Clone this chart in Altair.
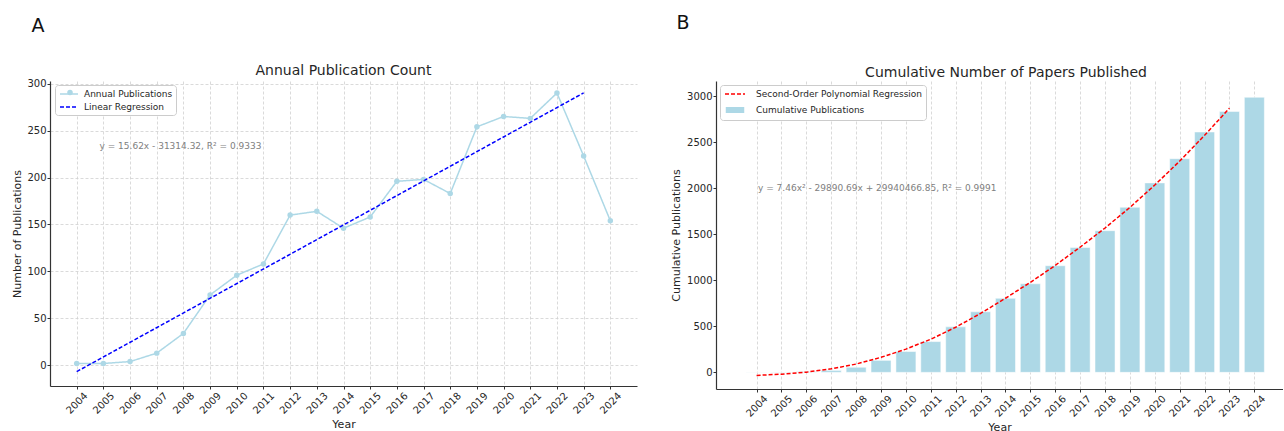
import altair as alt
import pandas as pd

# ---------------- data ----------------
years = [2004, 2005, 2006, 2007, 2008, 2009, 2010, 2011, 2012, 2013, 2014,
         2015, 2016, 2017, 2018, 2019, 2020, 2021, 2022, 2023, 2024]
annual_publications = [2, 2, 4, 13, 34, 75, 96, 108, 160, 164, 146,
                       158, 196, 198, 183, 254, 265, 263, 290, 223, 154]
cumulative_publications = [2, 4, 8, 21, 55, 130, 226, 334, 494, 658, 804,
                           962, 1158, 1356, 1539, 1793, 2058, 2321, 2611, 2834, 2988]

linear_fit_years = [2004, 2023]
linear_fit_values = [-6.7, 290.1]

poly_fit_years = [2004, 2005, 2006, 2007, 2008, 2009, 2010, 2011, 2012, 2013,
                  2014, 2015, 2016, 2017, 2018, 2019, 2020, 2021, 2022, 2023]
poly_fit_values = [-33, -20, 2, 38, 90, 163, 252, 360, 490, 640,
                   805, 978, 1162, 1360, 1568, 1792, 2035, 2295, 2575, 2870]

y_ticks_a = [0, 50, 100, 150, 200, 250, 300]
y_ticks_b = [0, 500, 1000, 1500, 2000, 2500, 3000]

series_a = ["Annual Publications", "Linear Regression"]
series_b = ["Second-Order Polynomial Regression", "Cumulative Publications"]

title_a = "Annual Publication Count"
title_b = "Cumulative Number of Papers Published"
eq_a = "y = 15.62x - 31314.32, R\u00b2 = 0.9333"
eq_b = "y = 7.46x\u00b2 - 29890.69x + 29940466.85, R\u00b2 = 0.9991"

# ---------------- styling ----------------
FONT = "DejaVu Sans"
TEXT = "#262626"
GRID = "#d0d0d0"
LIGHTBLUE = "#ADD8E6"

df_annual = pd.DataFrame({"Year": years, "Value": annual_publications,
                          "Series": [series_a[0]] * len(years)})
df_linear = pd.DataFrame({"Year": linear_fit_years, "Value": linear_fit_values,
                          "Series": [series_a[1]] * len(linear_fit_years)})
df_cum = pd.DataFrame({"Year": years, "Value": cumulative_publications,
                       "Series": [series_b[1]] * len(years)})
df_poly = pd.DataFrame({"Year": poly_fit_years, "Value": poly_fit_values,
                        "Series": [series_b[0]] * len(poly_fit_years)})


def year_axis(grid):
    return alt.Axis(values=years, format="d", labelAngle=-45, labelAlign="center",
                    labelBaseline="middle", labelPadding=14, tickSize=3,
                    title="Year", titlePadding=3, grid=grid, gridColor=GRID,
                    gridDash=[3, 2], gridWidth=0.8, labelOverlap=False,
                    labelFlush=False)


def value_axis(ticks, title, grid, title_pad):
    return alt.Axis(values=ticks, format="d", title=title, tickSize=3, labelPadding=1,
                    titlePadding=title_pad, grid=grid, gridColor=GRID,
                    gridDash=[3, 2], gridWidth=0.8, labelFlush=False)


def line_legend(x, y, half, sym_off, lab_off, **kw):
    return alt.Legend(title=None, orient="none", legendX=x, legendY=y,
                      symbolType=f"M-{half},0H{half}", symbolSize=100,
                      symbolStrokeWidth=1.5, symbolOffset=sym_off,
                      labelFontSize=9, labelColor=TEXT, labelOffset=lab_off,
                      labelLimit=400, padding=3, rowPadding=2, **kw)


def label_text(text, x, y, size, color, align="center"):
    return alt.Chart(pd.DataFrame({"t": [text]})).mark_text(
        align=align, baseline="middle", fontSize=size, color=color
    ).encode(text="t:N", x=alt.value(x), y=alt.value(y))


# ---------------- Panel A ----------------
W_A, H_A = 587, 305
xa = alt.X("Year:Q", scale=alt.Scale(domain=[2003, 2025], nice=False, zero=False),
           axis=year_axis(True))
ya = alt.Y("Value:Q", scale=alt.Scale(domain=[-22.0, 302.8], nice=False, zero=False),
           axis=value_axis(y_ticks_a, "Number of Publications", True, 4))

legend_a = line_legend(5, 4, 1.8, 5, 9, fillColor="white", strokeColor="#cccccc",
                       cornerRadius=3, zindex=1)
# marker-only legend laid over the first entry of legend_a (its label is hidden)
legend_a_marker = alt.Legend(title=None, orient="none", legendX=5, legendY=4,
                             symbolType="circle", symbolSize=30, symbolOffset=7.5,
                             symbolStrokeWidth=0, labelFontSize=9, labelOpacity=0,
                             labelLimit=400, padding=3, rowPadding=2, zindex=2)
color_a = alt.Color("Series:N", scale=alt.Scale(domain=series_a, range=[LIGHTBLUE, "#0000FF"]),
                    legend=legend_a)
dash_a = alt.StrokeDash("Series:N", scale=alt.Scale(domain=series_a, range=[[1, 0], [4, 2]]),
                        legend=legend_a)

annual_line = alt.Chart(df_annual).mark_line(strokeWidth=1.5).encode(
    x=xa, y=ya, color=color_a, strokeDash=dash_a)

annual_points = alt.Chart(df_annual).mark_point(filled=True, size=30, opacity=1).encode(
    x=xa, y=ya,
    fill=alt.Fill("Series:N", scale=alt.Scale(domain=[series_a[0]], range=[LIGHTBLUE]),
                  legend=legend_a_marker))

linear_line = alt.Chart(df_linear).mark_line(strokeWidth=1.5).encode(
    x=xa, y=ya, color=color_a, strokeDash=dash_a)

panel_a = alt.layer(
    annual_line, annual_points, linear_line,
    label_text(eq_a, 49.5, 65, 9, "#808080", align="left"),
    label_text(title_a, W_A / 2, -10.5, 14, TEXT),
    label_text("A", -12, -55.5, 19, "#111111"),
).properties(width=W_A, height=H_A)

# ---------------- Panel B ----------------
W_B, H_B = 567, 308
xb = alt.X("Year:Q", scale=alt.Scale(domain=[2002.57, 2024.95], nice=False, zero=False),
           axis=year_axis(True))
yb = alt.Y("Value:Q", scale=alt.Scale(domain=[-181, 3165], nice=False, zero=False),
           axis=value_axis(y_ticks_b, "Cumulative Publications", False, 5))

legend_b_box = alt.Legend(title=None, orient="none", legendX=4, legendY=4,
                          symbolType="M-2,-0.75H2V0.75H-2Z", symbolSize=100,
                          symbolStrokeWidth=1.5, symbolOffset=6,
                          labelFontSize=9, labelColor=TEXT, labelOffset=15,
                          labelLimit=400, fillColor="white", strokeColor="#cccccc",
                          padding=3, cornerRadius=3, rowPadding=2, zindex=1)
legend_b_line = line_legend(4, 4, 2, 6, 15, symbolDash=[4, 2], labelOpacity=0, zindex=2)

bars = alt.Chart(df_cum).mark_bar(size=20, stroke="white", strokeWidth=0.5).encode(
    x=xb, y=yb,
    fill=alt.Fill("Series:N", scale=alt.Scale(domain=series_b, range=["transparent", LIGHTBLUE]),
                  legend=legend_b_box))

poly_line = alt.Chart(df_poly).mark_line(strokeWidth=1.5, strokeDash=[4, 2]).encode(
    x=xb, y=yb,
    color=alt.Color("Series:N", scale=alt.Scale(domain=[series_b[0]], range=["#FF0000"]),
                    legend=legend_b_line))

panel_b = alt.layer(
    bars, poly_line,
    label_text(eq_b, 42, 107, 9, "#808080", align="left"),
    label_text(title_b, 290, -8, 14, TEXT),
    label_text("B", -33, -58, 19, "#111111"),
).properties(width=W_B, height=H_B)

chart = alt.hconcat(panel_a, panel_b, spacing=79, bounds="flush").resolve_scale(
    color="independent", strokeDash="independent", fill="independent"
).configure(
    font=FONT, padding={"left": 11, "top": 14, "right": 0, "bottom": 0},
    background="white"
).configure_view(stroke=None).configure_axis(
    labelFont=FONT, titleFont=FONT, labelFontSize=10, titleFontSize=11,
    labelColor=TEXT, titleColor=TEXT, titleFontWeight="normal",
    domainColor="#333333", tickColor="#333333", domainWidth=1.2, tickWidth=1
).configure_legend(labelFont=FONT)

chart.save("out.html", embed_options={"renderer": "svg", "actions": False})
